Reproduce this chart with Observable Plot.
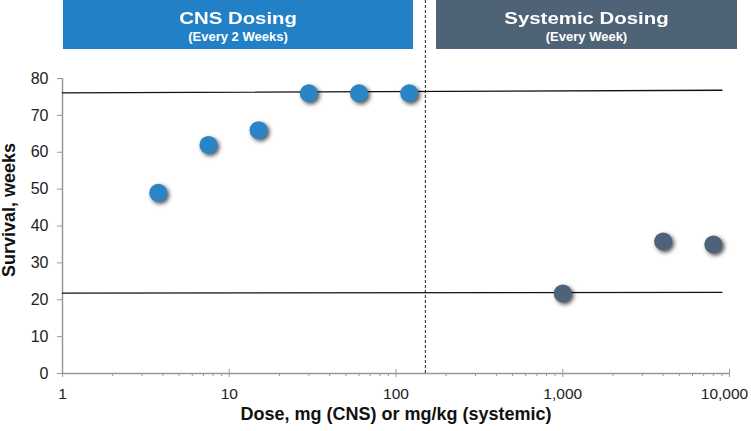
<!DOCTYPE html>
<html>
<head>
<meta charset="utf-8">
<script src="https://cdn.jsdelivr.net/npm/d3@7"></script>
<script src="https://cdn.jsdelivr.net/npm/@observablehq/plot@0.6"></script>
<style>
  html, body { margin: 0; padding: 0; background: #fff; }
  #wrap { position: relative; width: 751px; height: 431px; font-family: "Liberation Sans", Arial, sans-serif; }
  #wrap svg { position: absolute; left: 0; top: 0; }
  .hdr { position: absolute; top: 0; height: 49px; color: #fff; text-align: center; font-family: "Liberation Sans", Arial, sans-serif; font-weight: bold; }
  .hdr .t1 { font-size: 17px; line-height: 17px; margin-top: 10px; }
  .hdr .t1 span { display: inline-block; transform: scaleX(1.2); }
  .hdr .t2 { font-size: 13px; line-height: 14px; margin-top: 3px; }
  #cns { left: 63px; width: 350px; background: #2180c6; }
  #sys { left: 436px; width: 301px; background: #4f6376; }
  svg circle { filter: drop-shadow(2px 2px 2px rgba(0,0,0,0.7)); }
</style>
</head>
<body>
<div id="wrap">
  <div class="hdr" id="cns"><div class="t1"><span>CNS Dosing</span></div><div class="t2">(Every 2 Weeks)</div></div>
  <div class="hdr" id="sys"><div class="t1"><span>Systemic Dosing</span></div><div class="t2">(Every Week)</div></div>
</div>
<script>
// CNS dosing (every 2 weeks), dose in mg
const cnsDose = [3.75, 7.5, 15, 30, 60, 120];
const cnsSurvival = [49, 62, 66, 76, 76, 76];
// Systemic dosing (every week), dose in mg/kg
const sysDose = [1000, 4000, 8000];
const sysSurvival = [21.7, 35.8, 35];
// Reference lines (start/end)
const refX = [1, 9000];
const upperRef = [76.1, 76.8];
const lowerRef = [21.8, 22.0];
// Divider between CNS and systemic
const divider = [150];
// Axis ticks
const xMajor = [1, 10, 100, 1000, 10000];
const xLabelTicks = [1, 10, 100, 1000];
const xLastTick = [10000];
const xMinor = [2,3,4,5,6,7,8,9,20,30,40,50,60,70,80,90,200,300,400,500,600,700,800,900,2000,3000,4000,5000,6000,7000,8000,9000];
const yTicks = [0, 10, 20, 30, 40, 50, 60, 70, 80];
const xLabel = "Dose, mg (CNS) or mg/kg (systemic)";
const yLabel = "Survival, weeks";

const cns = cnsDose.map((d, i) => ({dose: d, surv: cnsSurvival[i]}));
const sys = sysDose.map((d, i) => ({dose: d, surv: sysSurvival[i]}));
const upper = refX.map((d, i) => ({dose: d, surv: upperRef[i]}));
const lower = refX.map((d, i) => ({dose: d, surv: lowerRef[i]}));

const chart = Plot.plot({
  width: 751,
  height: 431,
  marginLeft: 62,
  marginRight: 22,
  marginTop: 78,
  marginBottom: 58,
  style: {fontFamily: "Liberation Sans, Arial, sans-serif", fontSize: "15.5px", color: "#222", background: "transparent"},
  x: {type: "log", domain: [1, 10000]},
  y: {domain: [0, 80]},
  marks: [
    Plot.axisY({ticks: yTicks, tickSize: 5, tickPadding: 9, label: null, stroke: "#999", fontSize: 16}),
    Plot.axisX({ticks: xMinor, tickSize: 3, tickFormat: () => "", label: null, stroke: "#999"}),
    Plot.axisX({ticks: xMajor, tickSize: 4, tickFormat: () => "", label: null, stroke: "#999"}),
    Plot.axisX({ticks: xMajor, tickSize: -4, tickFormat: () => "", label: null, stroke: "#999"}),
    Plot.axisX({ticks: xLabelTicks, tickSize: 0, tickPadding: 14, tickFormat: d3.format(","), label: null}),
    Plot.axisX({ticks: xLastTick, tickSize: 0, tickPadding: 14, dx: -5, tickFormat: d3.format(","), label: null}),
    Plot.ruleY([0], {stroke: "#999", strokeWidth: 1.5}),
    Plot.ruleX([1], {stroke: "#999", strokeWidth: 1.5}),
    Plot.ruleX(divider, {stroke: "#222", strokeWidth: 1, strokeDasharray: "3,2", insetTop: -78}),
    Plot.line(upper, {x: "dose", y: "surv", stroke: "#111", strokeWidth: 1.4}),
    Plot.line(lower, {x: "dose", y: "surv", stroke: "#111", strokeWidth: 1.4}),
    Plot.dot(cns, {x: "dose", y: "surv", r: 9, fill: "#2a84c6"}),
    Plot.dot(sys, {x: "dose", y: "surv", r: 9, fill: "#4e6379"}),
    Plot.text([xLabel], {frameAnchor: "bottom", lineAnchor: "top", dy: 34, fontWeight: "bold", fontSize: 18, fill: "#111"}),
    Plot.text([yLabel], {frameAnchor: "left", textAnchor: "middle", lineAnchor: "top", dx: -60, dy: -16, rotate: -90, fontWeight: "bold", fontSize: 18, fill: "#111"})
  ]
});
document.getElementById("wrap").prepend(chart);
</script>
</body>
</html>
